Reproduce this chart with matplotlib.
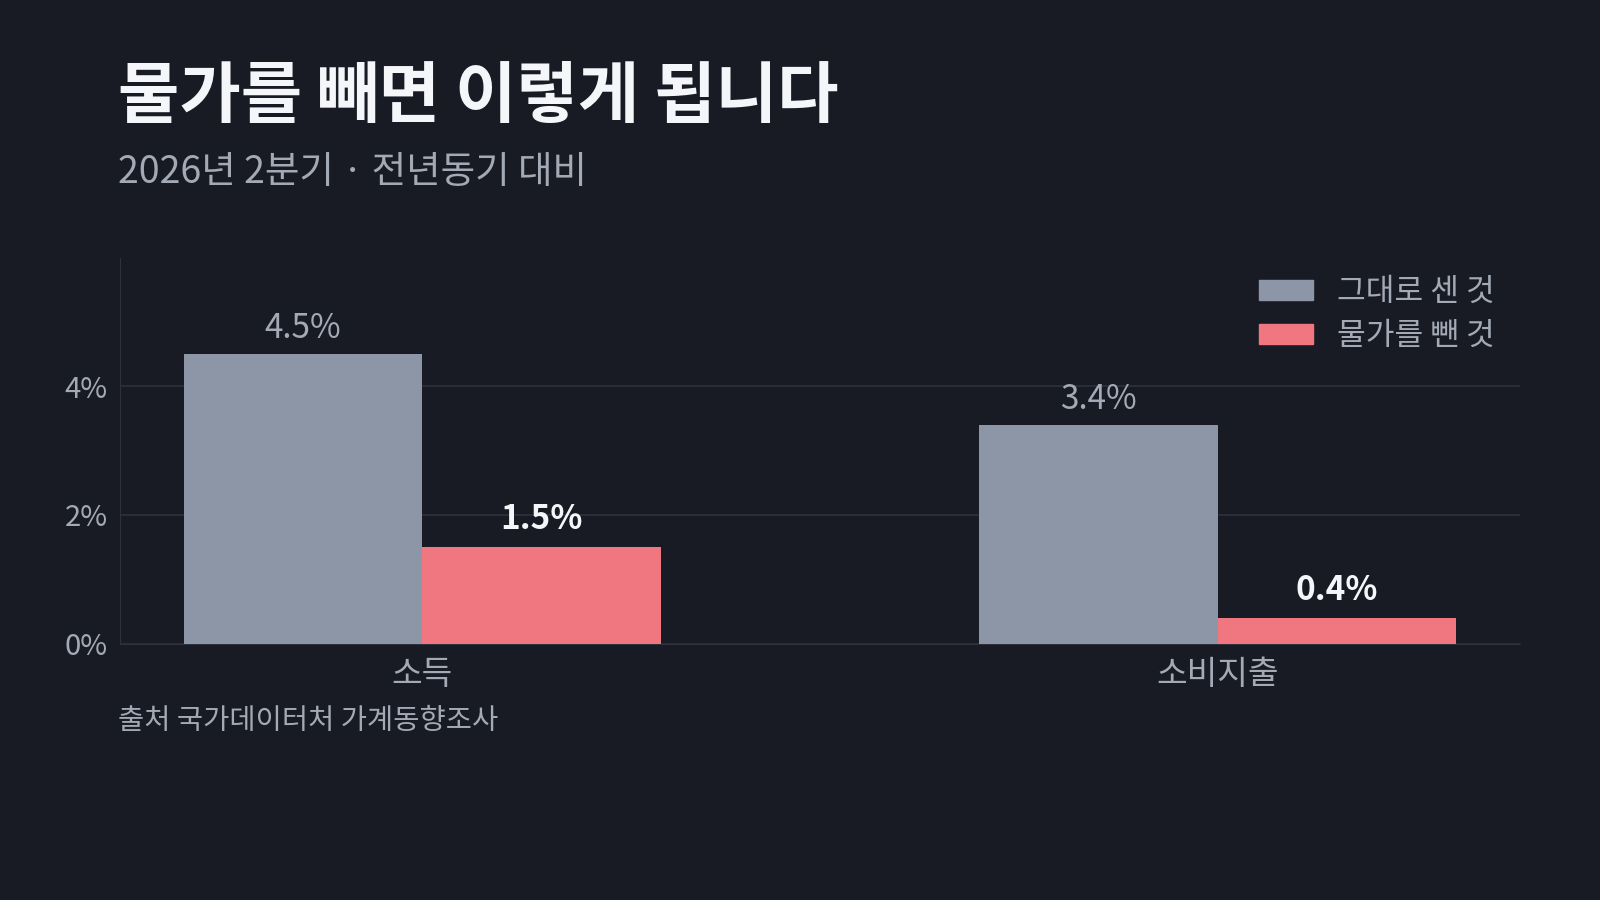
import matplotlib
matplotlib.use("Agg")
import matplotlib.pyplot as plt
from matplotlib.patches import Patch
import numpy as np

plt.rcParams['font.family'] = ['Noto Sans CJK KR', 'DejaVu Sans']

categories = ["소득", "소비지출"]
series_names = ["그대로 센 것", "물가를 뺀 것"]
nominal = [4.5, 3.4]
real = [1.5, 0.4]
yticks = [0, 2, 4]
ytick_labels = ["0%", "2%", "4%"]

title = "물가를 빼면 이렇게 됩니다"
subtitle = "2026년 2분기 · 전년동기 대비"
source = "출처 국가데이터처 가계동향조사"

BG = "#181b24"
GRAY = "#8c96a7"
RED = "#f07680"
GRID = "#2c313c"
TXT = "#a3aab6"
WHITE = "#f4f6f9"

fig = plt.figure(figsize=(16, 9), dpi=100, facecolor=BG)
ax = fig.add_axes([0.075, 0.285, 0.875, 0.4287], facecolor=BG)

x = np.arange(len(categories))
w = 0.3
b1 = ax.bar(x - w/2, nominal, w, color=GRAY, label=series_names[0], zorder=3)
b2 = ax.bar(x + w/2, real, w, color=RED, label=series_names[1], zorder=3)

for rect, v in zip(b1, nominal):
    ax.annotate(f"{v:.1f}%", (rect.get_x() + rect.get_width()/2, v),
                xytext=(0, 6), textcoords="offset points", ha="center", va="bottom",
                fontsize=24, color=TXT, fontweight="light")
for rect, v in zip(b2, real):
    ax.annotate(f"{v:.1f}%", (rect.get_x() + rect.get_width()/2, v),
                xytext=(0, 8), textcoords="offset points", ha="center", va="bottom",
                fontsize=24, color=WHITE, fontweight="bold")

ax.set_ylim(0, 6)
ax.set_yticks(yticks)
ax.set_yticklabels(ytick_labels)
ax.set_xticks(x)
ax.set_xticklabels(categories)
ax.tick_params(axis="y", length=0, colors=TXT, labelsize=21, pad=9)
ax.tick_params(axis="x", length=0, colors=TXT, labelsize=24, pad=10)
for lab in ax.get_yticklabels() + ax.get_xticklabels():
    lab.set_fontweight("light")
ax.grid(axis="y", color=GRID, linewidth=1.2, zorder=0)
for s in ["top", "right"]:
    ax.spines[s].set_visible(False)
ax.spines["left"].set_color(GRID)
ax.spines["bottom"].set_color(GRID)

leg = ax.legend(handles=[Patch(color=GRAY), Patch(color=RED)], labels=series_names,
                loc="upper right", frameon=False, fontsize=22.5, labelcolor=TXT,
                handlelength=1.73, handleheight=0.62, handletextpad=0.75, labelspacing=0.38,
                bbox_to_anchor=(1.002, 1.025))
for t in leg.get_texts():
    t.set_fontweight("light")

fig.text(0.074, 0.87, title, fontsize=48, fontweight="bold", color=WHITE, va="baseline")
fig.text(0.074, 0.797, subtitle, fontsize=27, fontweight="light", color=TXT, va="baseline")
fig.text(0.074, 0.19, source, fontsize=20.5, fontweight="light", color=TXT, va="baseline")

fig.savefig("out.png", dpi=100, facecolor=BG)
